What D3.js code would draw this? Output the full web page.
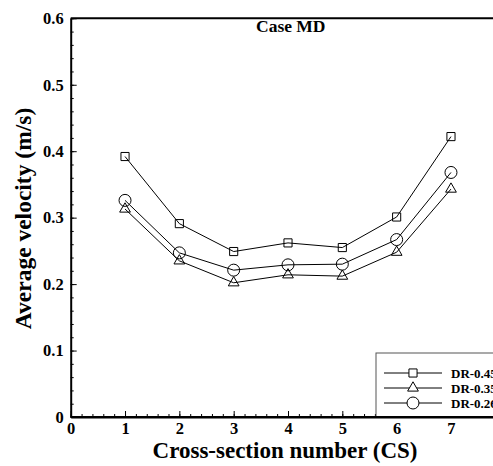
<!DOCTYPE html>
<html lang="en">
<head>
  <meta charset="UTF-8">
  <title>Case MD - Average velocity</title>
  <script src="https://d3js.org/d3.v7.min.js"></script>
  <style>
    body { margin: 0; background: #fff; }
    svg text { font-family: "Liberation Serif", "Times New Roman", serif; font-weight: bold; fill: #000; }
    .axis path { stroke: #000; stroke-width: 2; }
    .axis line { stroke: #000; stroke-width: 1; }
    .axis text { font-size: 16.5px; font-family: "Liberation Serif", serif; }
    .series { fill: none; stroke: #000; stroke-width: 1; }
    .marker { fill: none; stroke: #000; stroke-width: 1; }
  </style>
</head>
<body>
  <svg width="493" height="466"></svg>

  <script>
    // cross-section numbers and average velocity (m/s) per design ratio
    const sections = [1, 2, 3, 4, 5, 6, 7];
    const dr045 = [0.392, 0.291, 0.249, 0.262, 0.255, 0.301, 0.422];
    const dr035 = [0.313, 0.235, 0.202, 0.214, 0.212, 0.248, 0.343];
    const dr026 = [0.326, 0.247, 0.221, 0.229, 0.230, 0.267, 0.368];
    const seriesNames = ["DR-0.45", "DR-0.35", "DR-0.26"];
    const yTicks = [0, 0.1, 0.2, 0.3, 0.4, 0.5, 0.6];
    const xTicks = [0, 1, 2, 3, 4, 5, 6, 7];

    const series = [
      { name: seriesNames[0], values: dr045, symbol: d3.symbolSquare, size: 66 },
      { name: seriesNames[1], values: dr035, symbol: d3.symbolTriangle, size: 50 },
      { name: seriesNames[2], values: dr026, symbol: d3.symbolCircle, size: 113 }
    ];

    const svg = d3.select("svg");

    // plot box (the right edge runs past the picture)
    const plotL = 70.7, plotR = 505.3, plotT = 18.3, plotB = 417;

    const x = d3.scaleLinear().domain([0, 8]).range([plotL, plotR]);
    const y = d3.scaleLinear().domain([0, 0.6]).range([plotB, plotT]);

    // minor ticks first (no labels)
    const minorX = svg.append("g")
      .attr("class", "axis")
      .attr("transform", `translate(0,${plotB})`)
      .call(d3.axisBottom(x).tickValues(d3.range(0, 8.01, 0.2)).tickSize(-3).tickFormat(""));
    minorX.select(".domain").remove();
    minorX.selectAll("text").remove();
    const minorY = svg.append("g")
      .attr("class", "axis")
      .attr("transform", `translate(${plotL},0)`)
      .call(d3.axisLeft(y).tickValues(d3.range(0, 0.601, 0.02)).tickSize(-3).tickFormat(""));
    minorY.select(".domain").remove();
    minorY.selectAll("text").remove();

    // major axes
    svg.append("g")
      .attr("class", "axis")
      .attr("transform", `translate(0,${plotB})`)
      .call(d3.axisBottom(x).tickValues(xTicks).tickSize(-6).tickSizeOuter(0).tickPadding(5).tickFormat(d3.format("d")));
    svg.append("g")
      .attr("class", "axis")
      .attr("transform", `translate(${plotL},0)`)
      .call(d3.axisLeft(y).tickValues(yTicks).tickSize(-6).tickSizeOuter(0).tickPadding(7)
        .tickFormat(d => d === 0 ? "0" : d3.format(".1f")(d)));

    // top border
    svg.append("line")
      .attr("x1", plotL).attr("x2", plotR)
      .attr("y1", plotT).attr("y2", plotT)
      .attr("stroke", "#000").attr("stroke-width", 2);

    // lines and markers
    const line = d3.line()
      .x((d, i) => x(sections[i]))
      .y(d => y(d));

    series.forEach(s => {
      svg.append("path")
        .attr("class", "series")
        .attr("d", line(s.values));
      svg.selectAll(null)
        .data(s.values)
        .enter()
        .append("path")
          .attr("class", "marker")
          .attr("transform", (d, i) => `translate(${x(sections[i])},${y(d)})`)
          .attr("d", d3.symbol().type(s.symbol).size(s.size));
    });

    // title inside the plot
    svg.append("text")
      .attr("x", 256)
      .attr("y", 31.5)
      .style("font-size", "17.5px")
      .text("Case MD");

    // axis titles
    svg.append("text")
      .attr("x", 285)
      .attr("y", 458)
      .attr("text-anchor", "middle")
      .style("font-size", "23px")
      .text("Cross-section number (CS)");

    svg.append("text")
      .attr("transform", "translate(31,218.5) rotate(-90)")
      .attr("text-anchor", "middle")
      .style("font-size", "23.5px")
      .text("Average velocity (m/s)");

    // legend
    const legend = svg.append("g");
    legend.append("rect")
      .attr("x", 376).attr("y", 353)
      .attr("width", 160).attr("height", plotB - 353)
      .attr("fill", "#fff").attr("stroke", "#555").attr("stroke-width", 1);

    const rowY = d3.scalePoint().domain(seriesNames).range([373, 403]);
    series.forEach(s => {
      const ry = rowY(s.name);
      legend.append("line")
        .attr("x1", 384).attr("x2", 442)
        .attr("y1", ry).attr("y2", ry)
        .attr("stroke", "#000").attr("stroke-width", 1);
      legend.append("path")
        .attr("class", "marker")
        .style("fill", "#fff")
        .attr("transform", `translate(413,${ry})`)
        .attr("d", d3.symbol().type(s.symbol).size(s.size));
      legend.append("text")
        .attr("x", 451).attr("y", ry + 4.5)
        .style("font-size", "13px")
        .text(s.name);
    });

    // redraw bottom axis line over the legend box
    svg.append("line")
      .attr("x1", plotL).attr("x2", plotR)
      .attr("y1", plotB).attr("y2", plotB)
      .attr("stroke", "#000").attr("stroke-width", 2);
  </script>
</body>
</html>
